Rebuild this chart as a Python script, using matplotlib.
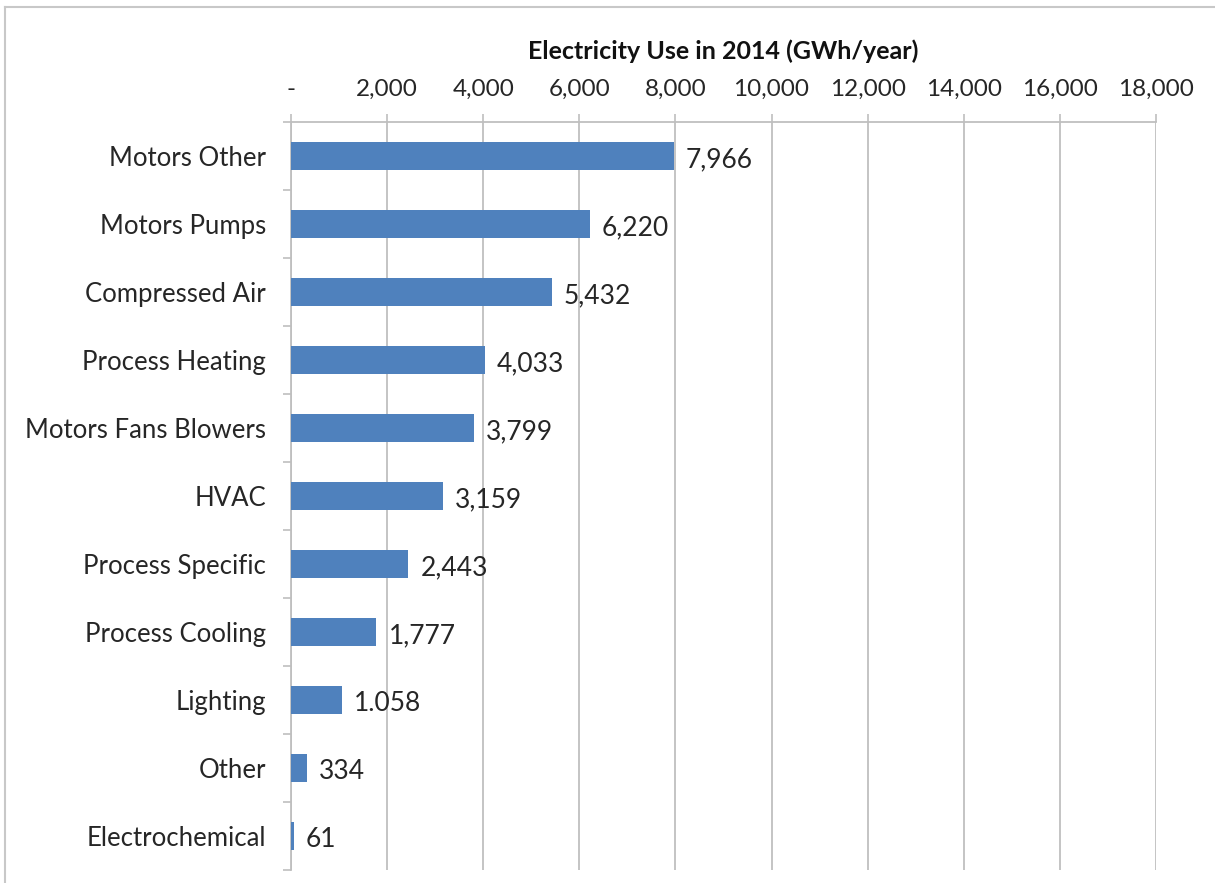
import matplotlib.pyplot as plt
from matplotlib.ticker import FixedLocator

# Data (top to bottom)
categories = ['Motors Other', 'Motors Pumps', 'Compressed Air', 'Process Heating',
              'Motors Fans Blowers', 'HVAC', 'Process Specific', 'Process Cooling',
              'Lighting', 'Other', 'Electrochemical']
values = [7966, 6220, 5432, 4033, 3799, 3159, 2443, 1777, 1058, 334, 61]
value_labels = ['7,966', '6,220', '5,432', '4,033', '3,799', '3,159', '2,443',
                '1,777', '1.058', '334', '61']
x_ticks = [0, 2000, 4000, 6000, 8000, 10000, 12000, 14000, 16000, 18000]
x_tick_labels = ['-', '2,000', '4,000', '6,000', '8,000', '10,000', '12,000',
                 '14,000', '16,000', '18,000']

plt.rcParams['font.family'] = ['Lato', 'DejaVu Sans']

fig = plt.figure(figsize=(12.15, 8.83), dpi=100)
ax = fig.add_axes([0.2395, 0.0147, 0.7119, 0.8471])

ypos = list(range(len(categories)))
ax.barh(ypos, values, height=0.4, color='#4F81BD', zorder=3)
for y, v, lab in zip(ypos, values, value_labels):
    ax.text(v + 250, y + 0.05, lab, va='center', ha='left', fontsize=19, color='#262626')

ax.set_ylim(len(categories) - 0.5, -0.5)
ax.set_yticks(ypos)
ax.set_yticklabels(categories, fontsize=18.5, color='#262626')
ax.yaxis.set_minor_locator(FixedLocator([i - 0.5 for i in range(len(categories) + 1)]))
ax.tick_params(axis='y', which='major', length=0, pad=18)
ax.tick_params(axis='y', which='minor', length=6, color='#BFBFBF', width=1.2)

ax.set_xlim(0, 18000)
ax.xaxis.tick_top()
ax.xaxis.set_label_position('top')
ax.set_xticks(x_ticks)
ax.set_xticklabels(x_tick_labels, fontsize=17.5, color='#262626')
ax.tick_params(axis='x', which='major', length=6, color='#BFBFBF', width=1.2, pad=10)
ax.set_xlabel('Electricity Use in 2014 (GWh/year)', fontsize=18, fontweight='bold',
              labelpad=14, color='#111111')

ax.grid(axis='x', color='#BFBFBF', linewidth=1.3, zorder=0)
for s in ['right', 'bottom']:
    ax.spines[s].set_visible(False)
for s in ['top', 'left']:
    ax.spines[s].set_color('#BFBFBF')
    ax.spines[s].set_linewidth(1.3)

# light frame of the original picture
fig.add_artist(plt.Line2D([0.004, 1.0], [0.992, 0.992], color='#C8C8C8', lw=1.5))
fig.add_artist(plt.Line2D([0.004, 0.004], [0.0, 0.992], color='#C8C8C8', lw=1.5))

fig.savefig('out.png', dpi=100)
